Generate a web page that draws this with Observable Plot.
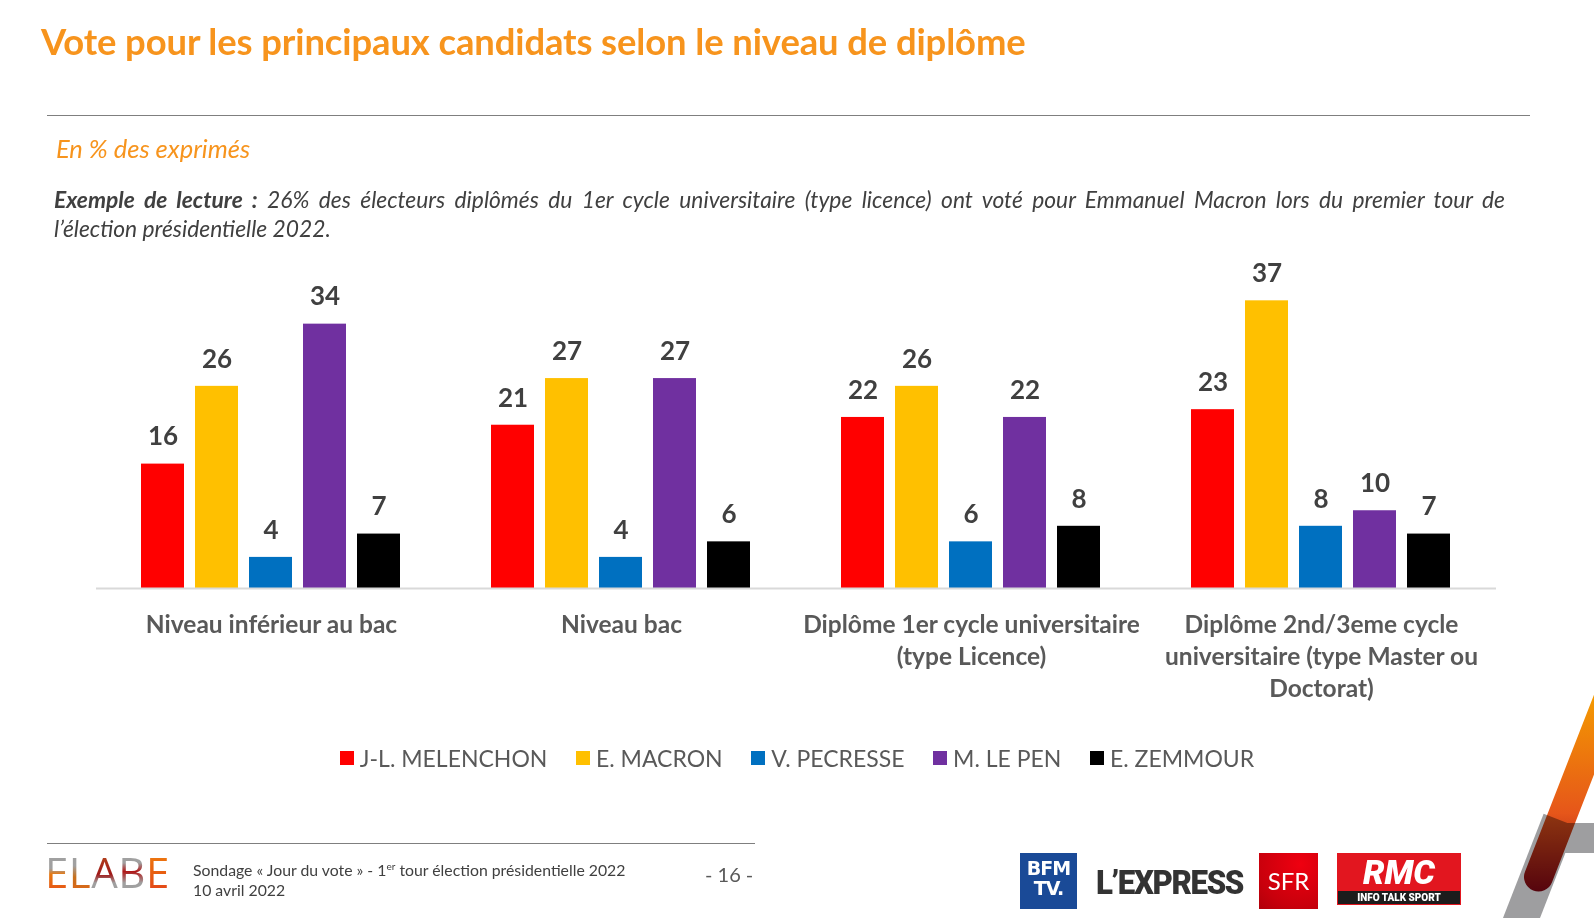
<!DOCTYPE html>
<html>
<head>
<meta charset="utf-8">
<script src="https://cdn.jsdelivr.net/npm/d3@7"></script>
<script src="https://cdn.jsdelivr.net/npm/@observablehq/plot@0.6"></script>
<style>
  html, body { margin: 0; padding: 0; background: #fff; }
  body { width: 1594px; height: 918px; position: relative; overflow: hidden; font-family: Lato, "Open Sans", sans-serif; }
  .abs { position: absolute; }
  #title { left: 41px; top: 19px; font-size: 36.4px; font-weight: bold; color: #F7941D; white-space: nowrap; letter-spacing: -0.1px; }
  #rule1 { left: 47px; top: 115px; width: 1483px; height: 0; border-top: 1.5px solid #7f7f7f; }
  #sub { left: 56px; top: 133px; font-size: 25.5px; font-style: italic; color: #F7941D; white-space: nowrap; }
  #lecture { left: 54px; top: 185px; width: 1451px; font-size: 22.8px; font-style: italic; color: #404040; line-height: 29px; }
  #lecture .l1 { text-align: justify; text-align-last: justify; white-space: nowrap; }
  #chart { left: 0; top: 240px; }
  #legend { left: 0; top: 744px; width: 1594px; display: flex; justify-content: center; font-size: 23px; color: #595959; }
  #legend .item { display: flex; align-items: center; margin: 0 14.3px; }
  #legend .sw { width: 14px; height: 14px; margin-right: 6px; }
  #rule2 { left: 47px; top: 843px; width: 708px; height: 0; border-top: 1.5px solid #7f7f7f; }
  #elabe { left: 45px; top: 849px; font-size: 42px; font-weight: 400; letter-spacing: 0.5px; line-height: 46px; font-family: "Open Sans", Lato, sans-serif; }
  #elabe span { -webkit-background-clip: text; background-clip: text; color: transparent; }
  #foot { left: 193px; top: 856px; font-size: 15.8px; color: #404040; line-height: 20px; }
  #foot sup { font-size: 10px; }
  #page { left: 705px; top: 862px; font-size: 20px; color: #595959; }
  #bfm { left: 1020px; top: 853px; width: 57px; height: 56px; background: #1a4a97; color: #fff; font-weight: 900; font-family: "DejaVu Sans", sans-serif; font-size: 19px; line-height: 20px; text-align: center; padding-top: 5px; box-sizing: border-box; letter-spacing: -1px; }
  #express { left: 1096px; top: 862px; font-size: 34px; font-weight: 900; color: #333; font-family: Roboto, sans-serif; letter-spacing: -1.5px; transform: scaleX(0.92); transform-origin: left; }
  #sfr { left: 1259px; top: 853px; width: 59px; height: 56px; background: radial-gradient(circle at 70% 20%, #ef0010, #c8000c 70%, #b0000a); color: #fff; font-size: 24px; text-align: center; line-height: 56px; }
  #rmc { left: 1337px; top: 853px; width: 124px; height: 52px; background: #e2161f; color: #fff; text-align: center; font-family: Roboto, sans-serif; }
  #rmc .big { font-size: 34px; font-weight: 900; font-style: italic; line-height: 38px; }
  #rmc .small { background: #1c1c1c; font-size: 10px; font-weight: 900; line-height: 13px; margin: 0 1px; }
  #deco { left: 1440px; top: 600px; }
</style>
</head>
<body>
<div id="title" class="abs">Vote pour les principaux candidats selon le niveau de diplôme</div>
<div id="rule1" class="abs"></div>
<div id="sub" class="abs">En % des exprimés</div>
<div id="lecture" class="abs">
  <div class="l1"><b>Exemple de lecture :</b> 26% des électeurs diplômés du 1er cycle universitaire (type licence) ont voté pour Emmanuel Macron lors du premier tour de</div>
  <div>l’élection présidentielle 2022.</div>
</div>
<div id="chart" class="abs"></div>
<div id="legend" class="abs"></div>
<div id="rule2" class="abs"></div>
<div id="elabe" class="abs"><span style="background-image:linear-gradient(180deg,#a0a0a0 0%,#a0a0a0 45%,#e8780f 55%,#e5401c 100%)">E</span><span style="background-image:linear-gradient(180deg,#a0a0a0 0%,#a0a0a0 40%,#c8701a 60%,#e8601a 100%)">L</span><span style="background-image:linear-gradient(180deg,#c06020 0%,#a01818 55%,#a0a0a0 70%,#a0a0a0 100%)">A</span><span style="background-image:linear-gradient(180deg,#a0a0a0 0%,#a0a0a0 35%,#b01818 50%,#a0a0a0 70%,#a0a0a0 100%)">B</span><span style="background-image:linear-gradient(180deg,#f08a10 0%,#e8600f 50%,#e03a1e 100%)">E</span></div>
<div id="foot" class="abs">Sondage « Jour du vote » - 1<sup>er</sup> tour élection présidentielle 2022<br>10 avril 2022</div>
<div id="page" class="abs">- 16 -</div>
<div id="bfm" class="abs">BFM<br>TV.</div>
<div id="express" class="abs">L’EXPRESS</div>
<div id="sfr" class="abs">SFR</div>
<div id="rmc" class="abs"><div class="big">RMC</div><div class="small">INFO TALK SPORT</div></div>
<svg id="deco" class="abs" width="154" height="318" viewBox="1440 600 154 318">
  <defs>
    <linearGradient id="og" x1="0" y1="695" x2="0" y2="892" gradientUnits="userSpaceOnUse">
      <stop offset="0" stop-color="#F49A00"/>
      <stop offset="0.6" stop-color="#E6561A"/>
      <stop offset="1" stop-color="#8A0615"/>
    </linearGradient>
  </defs>
  <rect x="1540" y="823" width="60" height="30" fill="#9e9ea0"/>
  <line x1="1513.7" y1="938" x2="1559.7" y2="820" stroke="#9e9ea0" stroke-width="34.5"/>
  <line x1="1646.5" y1="600" x2="1538.5" y2="877" stroke="url(#og)" stroke-width="29" stroke-linecap="round" style="mix-blend-mode:multiply"/>
</svg>
<script>
const groups = [
  "Niveau inférieur au bac",
  "Niveau bac",
  "Diplôme 1er cycle universitaire (type Licence)",
  "Diplôme 2nd/3eme cycle universitaire (type Master ou Doctorat)"
];
const groupLabels = [
  "Niveau inférieur au bac",
  "Niveau bac",
  "Diplôme 1er cycle universitaire\n(type Licence)",
  "Diplôme 2nd/3eme cycle\nuniversitaire (type Master ou\nDoctorat)"
];
const candidates = ["J-L. MELENCHON", "E. MACRON", "V. PECRESSE", "M. LE PEN", "E. ZEMMOUR"];
const colors = ["#FF0000", "#FFC000", "#0070C0", "#7030A0", "#000000"];
const melenchon = [16, 21, 22, 23];
const macron = [26, 27, 26, 37];
const pecresse = [4, 4, 6, 8];
const lepen = [34, 27, 22, 10];
const zemmour = [7, 6, 8, 7];

const series = [melenchon, macron, pecresse, lepen, zemmour];
const data = [];
groups.forEach((g, gi) => {
  candidates.forEach((c, ci) => {
    data.push({group: g, cand: c, value: series[ci][gi]});
  });
});

const chart = Plot.plot({
  width: 1594,
  height: 468,
  marginLeft: 96,
  marginRight: 98,
  marginTop: 37,
  marginBottom: 120,
  style: {fontFamily: "Lato, 'Open Sans', sans-serif", background: "transparent"},
  fx: {domain: groups, padding: 0, label: null},
  x: {domain: candidates, paddingInner: 0.2, paddingOuter: 0.84, axis: null},
  y: {domain: [0, 40], axis: null},
  color: {domain: candidates, range: colors},
  marks: [
    Plot.barY(data, {fx: "group", x: "cand", y: "value", fill: "cand"}),
    Plot.ruleY([0], {stroke: "#d9d9d9", strokeWidth: 2}),
    Plot.text(data, {fx: "group", x: "cand", y: "value", text: d => String(d.value), lineAnchor: "middle", dy: -27,
      fontSize: 26, fontWeight: "bold", fill: "#404040"}),
    Plot.axisFx({anchor: "bottom", tickSize: 0, tickPadding: 22, label: null, fontSize: 24.5, fontWeight: "bold",
      color: "#595959", lineHeight: 32 / 24.5, tickFormat: d => groupLabels[groups.indexOf(d)]})
  ]
});
document.getElementById("chart").appendChild(chart);

const legend = document.getElementById("legend");
candidates.forEach((c, i) => {
  const item = document.createElement("div");
  item.className = "item";
  const sw = document.createElement("div");
  sw.className = "sw";
  sw.style.background = colors[i];
  const t = document.createElement("span");
  t.textContent = c;
  item.appendChild(sw);
  item.appendChild(t);
  legend.appendChild(item);
});
</script>
</body>
</html>
